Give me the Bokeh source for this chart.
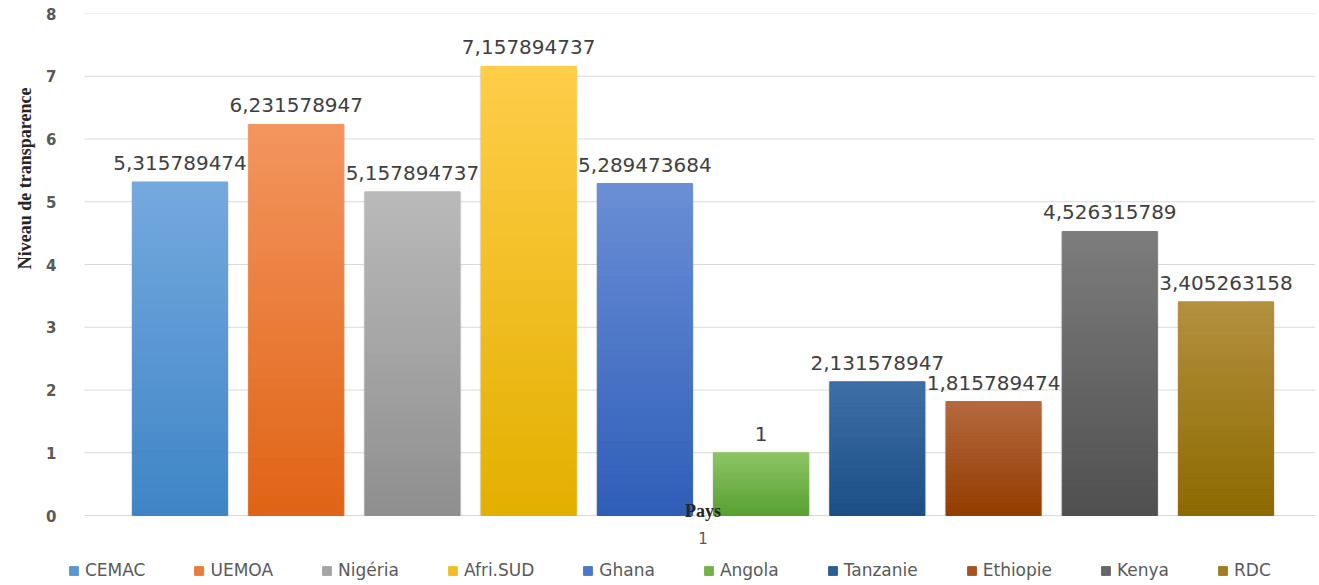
import math
from bokeh.plotting import figure
from bokeh.models import (ColumnDataSource, Range1d, FixedTicker, Label,
                          Legend, LegendItem, Title)
from bokeh.core.properties import value
from bokeh.embed import file_html
from bokeh.resources import INLINE

# ---------------- data ----------------
categories = ["CEMAC", "UEMOA", "Nigéria", "Afri.SUD", "Ghana",
              "Angola", "Tanzanie", "Ethiopie", "Kenya", "RDC"]
values = [5.315789474, 6.231578947, 5.157894737, 7.157894737, 5.289473684,
          1, 2.131578947, 1.815789474, 4.526315789, 3.405263158]
value_labels = ["5,315789474", "6,231578947", "5,157894737", "7,157894737",
                "5,289473684", "1", "2,131578947", "1,815789474",
                "4,526315789", "3,405263158"]
group_label = "1"
x_title = "Pays"
y_title = "Niveau de transparence"
y_ticks = [0, 1, 2, 3, 4, 5, 6, 7, 8]

# ---------------- styles ----------------
top_colors = ["#74a9de", "#f3955e", "#b9b9b9", "#ffcd48", "#6a8ed6",
              "#8cc462", "#3f6ea6", "#b5683e", "#7c7c7c", "#b3903e"]
bottom_colors = ["#3f85c6", "#e06416", "#8f8f8f", "#e3b000", "#2f5eb8",
                 "#59a033", "#1a4f86", "#943d00", "#505050", "#8d6a00"]
BAR_W = 0.818
N_SLICES = 40
PLOT_X0 = -0.822   # left end of the plot area (gridlines start)
X_END = 9.77
Y_MIN = -1.1155    # room below the baseline for labels and legend


def hex2rgb(h):
    h = h.lstrip("#")
    return tuple(int(h[i:i + 2], 16) for i in (0, 2, 4))


def mix(c1, c2, t):
    a, b = hex2rgb(c1), hex2rgb(c2)
    return "#%02x%02x%02x" % tuple(round(a[i] + (b[i] - a[i]) * t) for i in range(3))


p = figure(width=1319, height=585,
           x_range=Range1d(-1.011, X_END), y_range=Range1d(Y_MIN, 8),
           output_backend="svg", toolbar_location=None,
           min_border_left=62, min_border_right=4,
           min_border_top=13, min_border_bottom=0)
p.outline_line_color = None
p.background_fill_color = "white"
p.border_fill_color = "white"
p.xaxis.visible = False
p.grid.visible = False

# y axis
p.yaxis.ticker = FixedTicker(ticks=y_ticks)
p.yaxis.axis_line_color = None
p.yaxis.major_tick_line_color = None
p.yaxis.minor_tick_line_color = None
p.yaxis.major_label_text_font = "DejaVu Sans"
p.yaxis.major_label_text_font_style = "bold"
p.yaxis.major_label_text_font_size = "15px"
p.yaxis.major_label_text_color = "#595959"
p.yaxis.major_label_standoff = 0

# y axis title
p.add_layout(Title(text=y_title, align="right", offset=74, standoff=18,
                   text_font="Liberation Serif", text_font_style="bold",
                   text_font_size="18px", text_color="#262626"), "left")

# horizontal gridlines
grid_src = ColumnDataSource(dict(y=y_ticks))
p.segment(x0=PLOT_X0, x1=X_END, y0="y", y1="y", source=grid_src,
          line_color="#d9d9d9", line_width=1)

center = (len(categories) - 1) / 2

# soft shadow behind bars
xs = list(range(len(categories)))
shadow_src = ColumnDataSource(dict(x=xs, top=values))
p.vbar(x="x", top="top", bottom=0, width=BAR_W + 0.03, source=shadow_src,
       fill_color="#000000", fill_alpha=0.05, line_color=None)
p.vbar(x="x", top="top", bottom=0, width=BAR_W + 0.014, source=shadow_src,
       fill_color="#000000", fill_alpha=0.07, line_color=None)

# gradient bars (stacked slices of each bar)
items = []
for i, (cat, v) in enumerate(zip(categories, values)):
    bots, tops, cols, xx = [], [], [], []
    for k in range(N_SLICES):
        bots.append(v * k / N_SLICES)
        tops.append(v * (k + 1) / N_SLICES)
        cols.append(mix(bottom_colors[i], top_colors[i], k / (N_SLICES - 1)))
        xx.append(i)
    src = ColumnDataSource(dict(x=xx, bottom=bots, top=tops, color=cols))
    r = p.vbar(x="x", bottom="bottom", top="top", width=BAR_W, source=src,
               fill_color="color", line_color="color", line_width=1)
    items.append(LegendItem(label=cat, renderers=[r], index=N_SLICES // 2))

# data labels
lab_src = ColumnDataSource(dict(x=xs, y=values, t=value_labels))
p.text(x="x", y="y", text="t", source=lab_src,
       text_align="center", text_baseline="bottom", y_offset=-12,
       text_font=value("DejaVu Sans"), text_font_size="20px",
       text_color="#404040")

# category label under the baseline and x title
p.text(x=[center], y=[0], text=[group_label], text_align="center",
       text_baseline="top", y_offset=16, text_font=value("DejaVu Sans"),
       text_font_size="15px", text_color="#595959")
p.add_layout(Label(x=center, y=0, text=x_title, y_offset=5,
                   text_align="center", text_baseline="alphabetic",
                   text_font="Liberation Serif", text_font_style="bold",
                   text_font_size="18px", text_color="#262626"))

# legend (inside the lower part of the frame)
legend = Legend(items=items, orientation="horizontal", location=(6, 5),
                label_text_font="DejaVu Sans", label_text_font_size="17px",
                label_text_color="#595959", glyph_width=11, glyph_height=11,
                label_standoff=6, spacing=48, padding=0, margin=0,
                border_line_color=None, background_fill_alpha=0)
p.add_layout(legend)

open("out.html", "w").write(file_html(p, INLINE))
